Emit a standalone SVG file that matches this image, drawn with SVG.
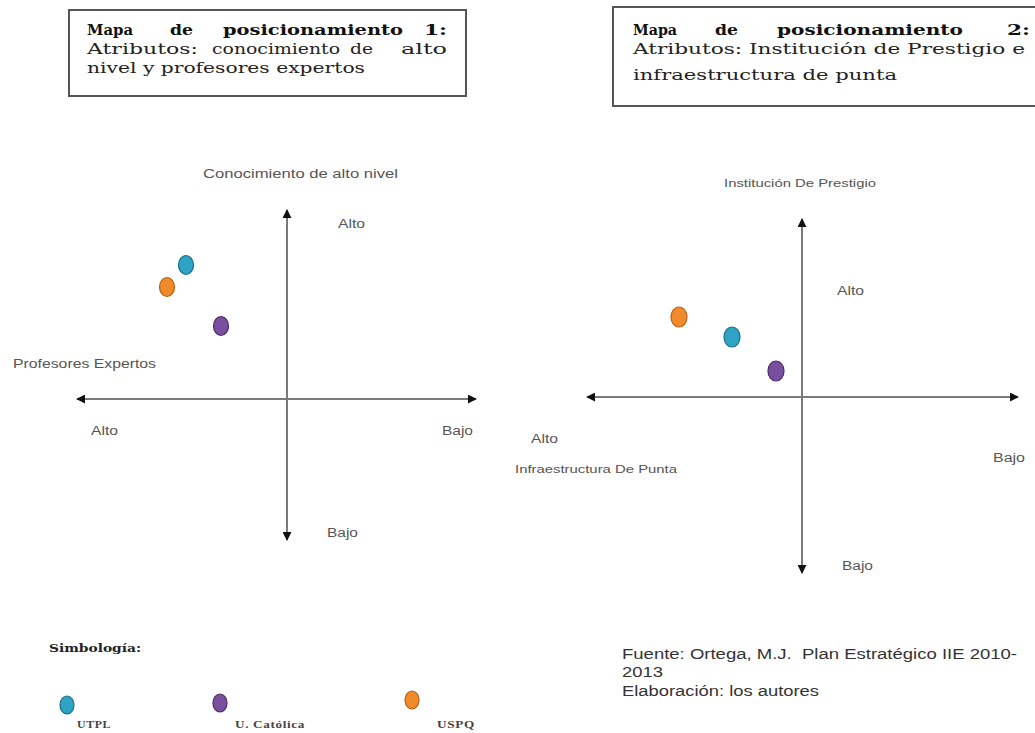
<svg xmlns="http://www.w3.org/2000/svg" width="1035" height="733" viewBox="0 0 1035 733">
<style>
.box{fill:#fff;stroke:#555;stroke-width:2}
.ttl{font-family:"DejaVu Serif","Liberation Serif",serif;font-size:15px;font-weight:bold;fill:#111}
.sub{font-family:"DejaVu Serif","Liberation Serif",serif;font-size:15px;fill:#222}
.lbl{font-family:"Liberation Sans",Arial,sans-serif;font-size:12.5px;fill:#555}
.axis{stroke:#7a7a7a;stroke-width:2;fill:none}
.leg{font-family:"Liberation Serif",serif;font-size:10px;font-weight:bold;fill:#444;letter-spacing:0.5px}
.src{font-family:"Liberation Sans",Arial,sans-serif;font-size:14px;fill:#333}
.cy{fill:#2ea3c4;stroke:#1d6f88;stroke-width:1.2}
.pu{fill:#7b4fa0;stroke:#4a2d66;stroke-width:1.2}
.or{fill:#f08a2a;stroke:#b9621a;stroke-width:1.2}
</style>
<defs>
<marker id="ah" viewBox="0 0 10 10" refX="9" refY="5" markerWidth="4.5" markerHeight="4.5" orient="auto-start-reverse" markerUnits="strokeWidth">
<path d="M0,0 L10,5 L0,10 z" fill="#111"/>
</marker>
</defs>
<rect width="1035" height="733" fill="#fff"/>

<g id="title1">
<rect class="box" x="69" y="10" width="397" height="86"/>
<text class="ttl" x="87" y="35" textLength="46" lengthAdjust="spacingAndGlyphs">Mapa</text>
<text class="ttl" x="170" y="35" textLength="23" lengthAdjust="spacingAndGlyphs">de</text>
<text class="ttl" x="223" y="35" textLength="180" lengthAdjust="spacingAndGlyphs">posicionamiento</text>
<text class="ttl" x="424" y="35" textLength="23" lengthAdjust="spacingAndGlyphs">1:</text>
<text class="sub" x="87" y="54" textLength="111" lengthAdjust="spacingAndGlyphs">Atributos:</text>
<text class="sub" x="212" y="54" textLength="128" lengthAdjust="spacingAndGlyphs">conocimiento</text>
<text class="sub" x="350" y="54" textLength="23" lengthAdjust="spacingAndGlyphs">de</text>
<text class="sub" x="401" y="54" textLength="46" lengthAdjust="spacingAndGlyphs">alto</text>
<text class="sub" x="87" y="73" textLength="278" lengthAdjust="spacingAndGlyphs">nivel y profesores expertos</text>
</g>

<g id="title2">
<rect class="box" x="613" y="7" width="430" height="99"/>
<text class="ttl" x="633" y="35" textLength="44" lengthAdjust="spacingAndGlyphs">Mapa</text>
<text class="ttl" x="715" y="35" textLength="23" lengthAdjust="spacingAndGlyphs">de</text>
<text class="ttl" x="777" y="35" textLength="186" lengthAdjust="spacingAndGlyphs">posicionamiento</text>
<text class="ttl" x="1007" y="35" textLength="23" lengthAdjust="spacingAndGlyphs">2:</text>
<text class="sub" x="633" y="54" textLength="392" lengthAdjust="spacingAndGlyphs">Atributos: Institución de Prestigio e</text>
<text class="sub" x="633" y="80" textLength="264" lengthAdjust="spacingAndGlyphs">infraestructura de punta</text>
</g>

<g id="connectors">
<line class="axis" x1="287" y1="540" x2="287" y2="210" marker-end="url(#ah)"/>
<line class="axis" x1="287" y1="400" x2="287" y2="540" marker-end="url(#ah)"/>
<line class="axis" x1="77" y1="399" x2="476" y2="399" marker-start="url(#ah)" marker-end="url(#ah)"/>
<line class="axis" x1="802" y1="573" x2="802" y2="219" marker-start="url(#ah)" marker-end="url(#ah)"/>
<line class="axis" x1="587" y1="397" x2="1018" y2="397" marker-start="url(#ah)" marker-end="url(#ah)"/>
</g>

<g id="map1-labels">
<text class="lbl" x="203" y="178" textLength="195" lengthAdjust="spacingAndGlyphs">Conocimiento de alto nivel</text>
<text class="lbl" x="338" y="228" textLength="27" lengthAdjust="spacingAndGlyphs">Alto</text>
<text class="lbl" x="13" y="368" textLength="143" lengthAdjust="spacingAndGlyphs">Profesores Expertos</text>
<text class="lbl" x="91" y="435" textLength="27" lengthAdjust="spacingAndGlyphs">Alto</text>
<text class="lbl" x="442" y="435" textLength="31" lengthAdjust="spacingAndGlyphs">Bajo</text>
<text class="lbl" x="327" y="537" textLength="31" lengthAdjust="spacingAndGlyphs">Bajo</text>
</g>

<g id="map1-points">
<ellipse id="m1-utpl" class="cy" cx="186" cy="265" rx="7.5" ry="9.5"/>
<ellipse id="m1-uspq" class="or" cx="167" cy="287" rx="7.5" ry="9.5"/>
<ellipse id="m1-ucat" class="pu" cx="221" cy="326" rx="7.5" ry="9.5"/>
</g>

<g id="map2-labels">
<text class="lbl" x="724" y="187" textLength="152" lengthAdjust="spacingAndGlyphs" style="font-size:11.5px">Institución De Prestigio</text>
<text class="lbl" x="837" y="295" textLength="27" lengthAdjust="spacingAndGlyphs">Alto</text>
<text class="lbl" x="531" y="443" textLength="27" lengthAdjust="spacingAndGlyphs">Alto</text>
<text class="lbl" x="515" y="473" textLength="162" lengthAdjust="spacingAndGlyphs" style="font-size:11.5px">Infraestructura De Punta</text>
<text class="lbl" x="993" y="462" textLength="32" lengthAdjust="spacingAndGlyphs">Bajo</text>
<text class="lbl" x="842" y="570" textLength="31" lengthAdjust="spacingAndGlyphs">Bajo</text>
</g>

<g id="map2-points">
<ellipse id="m2-uspq" class="or" cx="679" cy="317" rx="8" ry="10"/>
<ellipse id="m2-utpl" class="cy" cx="732" cy="337" rx="8" ry="10"/>
<ellipse id="m2-ucat" class="pu" cx="776" cy="371" rx="8" ry="10"/>
</g>

<g id="legend">
<text x="49" y="652" style="font-family:'DejaVu Serif','Liberation Serif',serif;font-size:11px;font-weight:bold;fill:#222" textLength="92" lengthAdjust="spacingAndGlyphs">Simbología:</text>
<ellipse class="cy" cx="67" cy="705" rx="7" ry="9"/>
<text class="leg" x="77" y="728" textLength="34" lengthAdjust="spacingAndGlyphs">UTPL</text>
<ellipse class="pu" cx="220" cy="703" rx="7" ry="9"/>
<text class="leg" x="235" y="728" textLength="70" lengthAdjust="spacingAndGlyphs">U. Católica</text>
<ellipse class="or" cx="412" cy="700" rx="7" ry="9"/>
<text class="leg" x="437" y="728" textLength="38" lengthAdjust="spacingAndGlyphs">USPQ</text>
</g>

<g id="source">
<text class="src" x="622" y="659" textLength="395" lengthAdjust="spacingAndGlyphs" xml:space="preserve">Fuente: Ortega, M.J.  Plan Estratégico IIE 2010-</text>
<text class="src" x="622" y="677" textLength="41" lengthAdjust="spacingAndGlyphs">2013</text>
<text class="src" x="622" y="696" textLength="197" lengthAdjust="spacingAndGlyphs">Elaboración: los autores</text>
</g>
</svg>
